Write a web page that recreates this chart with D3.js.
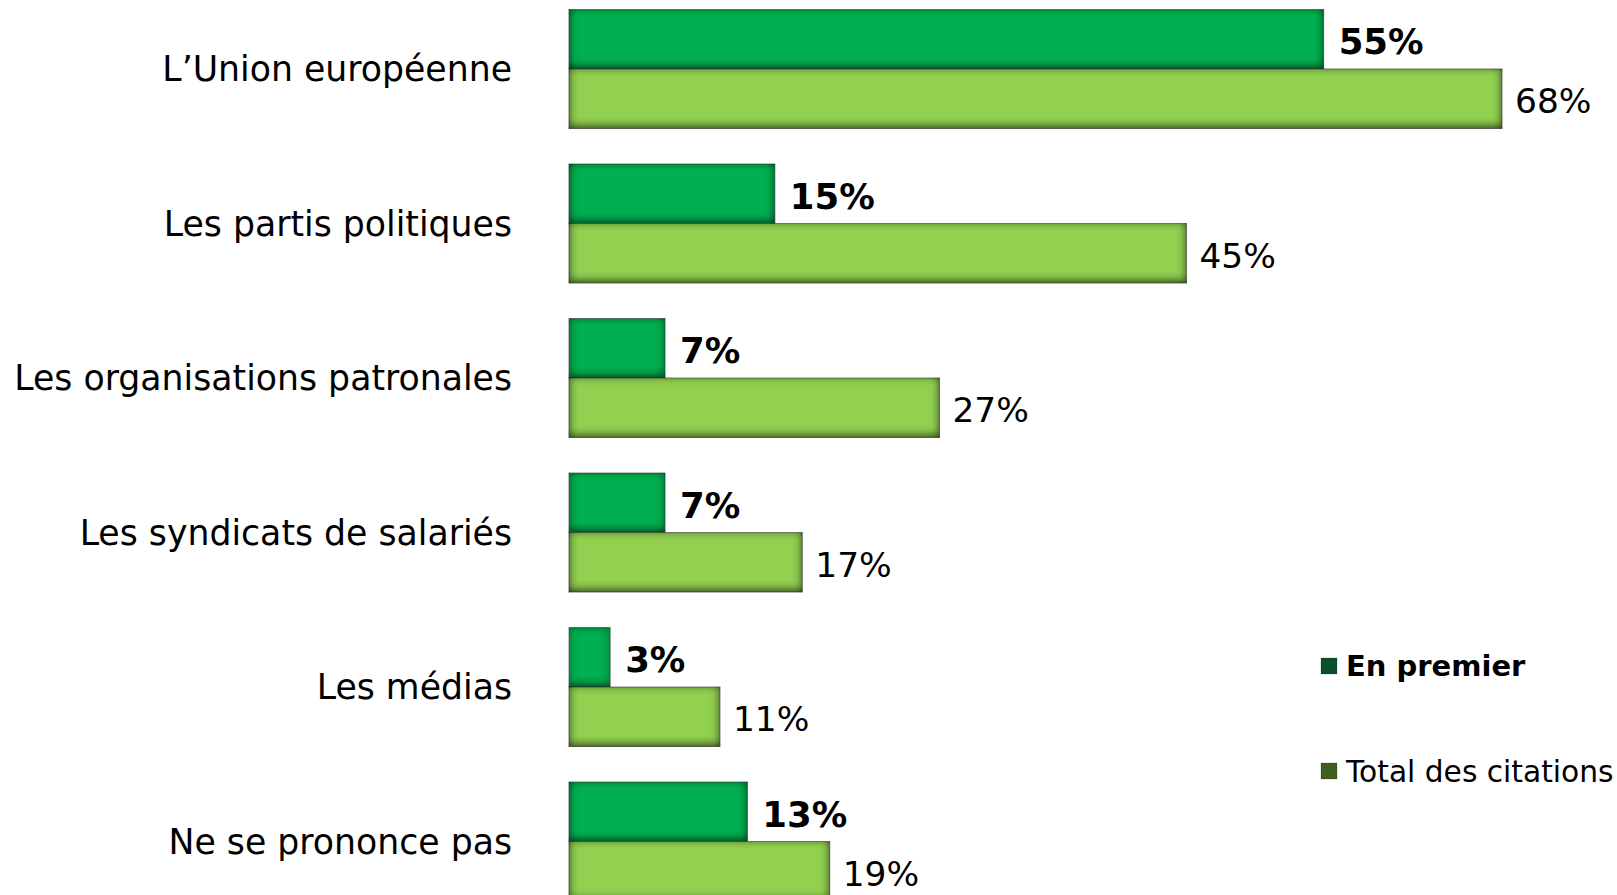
<!DOCTYPE html>
<html><head><meta charset="utf-8">
<script src="https://cdn.jsdelivr.net/npm/d3@7"></script>
<style>
html,body{margin:0;padding:0;background:#fff;}
svg{display:block;font-family:"DejaVu Sans",Verdana,sans-serif;}
</style></head>
<body>
<svg id="chart" width="1617" height="895"></svg>
<script>
const categories = ["L\u2019Union européenne","Les partis politiques","Les organisations patronales","Les syndicats de salariés","Les médias","Ne se prononce pas"];
const seriesNames = ["En premier","Total des citations"];
const enPremier = [55,15,7,7,3,13];
const totalCitations = [68,45,27,17,11,19];
const barColors = ["#00b050","#92d050"];
const legendColors = ["#0c4f2b","#3f5e22"];

const svg = d3.select("#chart");
const defs = svg.append("defs");
const f = defs.append("filter").attr("id","inset").attr("x","-5%").attr("y","-25%").attr("width","110%").attr("height","150%")
  .attr("color-interpolation-filters","sRGB");
f.append("feComponentTransfer").attr("in","SourceAlpha").attr("result","inv")
  .append("feFuncA").attr("type","table").attr("tableValues","1 0");
f.append("feGaussianBlur").attr("in","inv").attr("stdDeviation","5").attr("result","blur");
f.append("feOffset").attr("in","blur").attr("dx","0").attr("dy","-2").attr("result","off");
f.append("feFlood").attr("flood-color","#000").attr("flood-opacity","0.75").attr("result","col");
f.append("feComposite").attr("in","col").attr("in2","off").attr("operator","in").attr("result","sh");
f.append("feComposite").attr("in","sh").attr("in2","SourceAlpha").attr("operator","in").attr("result","shin");
const m = f.append("feMerge");
m.append("feMergeNode").attr("in","SourceGraphic");
m.append("feMergeNode").attr("in","shin");

const x = d3.scaleLinear().domain([0,68]).range([569,1502]);
const y = d3.scaleBand().domain(categories).range([9.5,901]).paddingInner(0.23).paddingOuter(0);
const ys = d3.scaleBand().domain([0,1]).range([0,y.bandwidth()]);

const data = categories.map((c,i)=>({cat:c, vals:[enPremier[i], totalCitations[i]]}));

const g = svg.selectAll("g.grp").data(data).join("g").attr("class","grp")
  .attr("transform", d=>`translate(0,${y(d.cat)})`);

g.selectAll("rect").data(d=>d.vals.map((v,k)=>({v,k}))).join("rect")
  .attr("x", x(0)).attr("y", d=>ys(d.k)).attr("width", d=>x(d.v)-x(0)).attr("height", ys.bandwidth())
  .attr("fill", d=>barColors[d.k]).attr("filter","url(#inset)")
  .attr("stroke","rgba(60,60,60,0.5)").attr("stroke-width",1);

g.selectAll("text.val").data(d=>d.vals.map((v,k)=>({v,k}))).join("text").attr("class","val")
  .attr("x", d=>x(d.v)+ (d.k===0?15:13)).attr("y", d=>ys(d.k)+ys.bandwidth()/2+2)
  .attr("dy","0.36em").attr("font-size", d=>d.k===0?"35.5px":"34.4px")
  .attr("font-weight", d=>d.k===0?"bold":"normal").attr("fill","#000")
  .text(d=>d.v+"%");

g.append("text").attr("x",512).attr("y", y.bandwidth()/2).attr("dy","0.36em")
  .attr("text-anchor","end").attr("font-size","34.7px").attr("fill","#000").text(d=>d.cat);

// legend
const legY = [666, 771];
const lg = svg.selectAll("g.leg").data(seriesNames).join("g").attr("class","leg")
  .attr("transform",(d,i)=>`translate(1321,${legY[i]})`);
lg.append("rect").attr("x",0).attr("y",-8).attr("width",16).attr("height",16)
  .attr("fill",(d,i)=>legendColors[i]).attr("stroke","rgba(0,0,0,0.3)").attr("stroke-width",0.6);
lg.append("text").attr("x",25).attr("y",0).attr("dy","0.36em")
  .attr("font-size",(d,i)=>i===0?"29px":"29.7px").attr("font-weight",(d,i)=>i===0?"bold":"normal")
  .attr("fill","#000").text(d=>d);
</script>
</body></html>
